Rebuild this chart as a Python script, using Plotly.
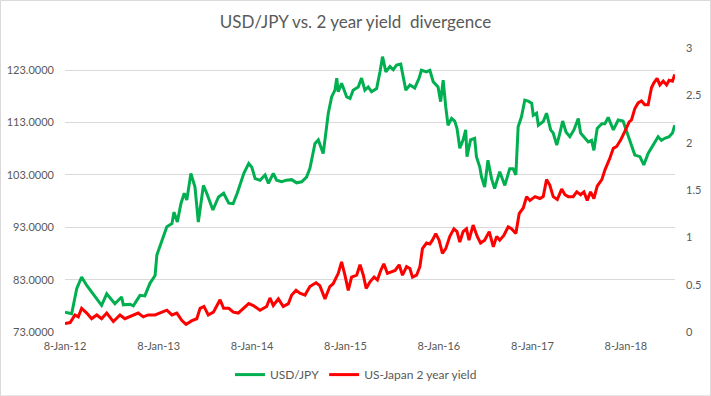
import plotly.graph_objects as go

# ---------------- data ----------------
usdjpy_dates = [
    "2012-01-08","2012-02-03","2012-02-23","2012-03-13","2012-04-02","2012-04-21","2012-05-11","2012-05-30",
    "2012-06-19","2012-07-08","2012-07-21","2012-08-16","2012-08-23","2012-09-18","2012-10-01","2012-10-27",
    "2012-11-15","2012-12-05","2012-12-25","2013-01-01","2013-01-20","2013-02-09","2013-03-01","2013-03-09",
    "2013-03-22","2013-04-05","2013-04-18","2013-04-28","2013-05-14","2013-05-30","2013-06-12","2013-07-02",
    "2013-07-15","2013-08-08","2013-08-30","2013-09-19","2013-10-09","2013-10-26","2013-11-11","2013-12-07",
    "2013-12-26","2014-01-07","2014-01-20","2014-02-08","2014-02-28","2014-03-13","2014-04-01","2014-04-14",
    "2014-05-04","2014-05-23","2014-06-12","2014-07-01","2014-07-21","2014-08-09","2014-08-22","2014-09-11",
    "2014-09-24","2014-10-13","2014-10-20","2014-11-02","2014-11-15","2014-11-28","2014-12-05","2014-12-11",
    "2014-12-24","2015-01-13","2015-01-26","2015-02-07","2015-02-27","2015-03-12","2015-03-25","2015-04-07",
    "2015-04-20","2015-05-10","2015-05-23","2015-06-02","2015-06-15","2015-07-01","2015-07-14","2015-07-27",
    "2015-08-12","2015-08-22","2015-09-01","2015-09-17","2015-10-06","2015-10-23","2015-11-01","2015-11-21",
    "2015-12-04","2015-12-17","2016-01-05","2016-01-15","2016-01-25","2016-02-04","2016-02-13","2016-02-27",
    "2016-03-10","2016-03-19","2016-03-30","2016-04-12","2016-04-22","2016-04-27","2016-05-11","2016-05-27",
    "2016-06-03","2016-06-16","2016-06-23","2016-07-05","2016-07-18","2016-08-01","2016-08-13","2016-09-02",
    "2016-09-22","2016-10-11","2016-10-24","2016-11-04","2016-11-13","2016-11-26","2016-12-09","2016-12-22",
    "2017-01-05","2017-01-11","2017-01-24","2017-01-31","2017-02-19","2017-03-04","2017-03-20","2017-03-30",
    "2017-04-13","2017-04-25","2017-05-06","2017-05-19","2017-06-03","2017-06-19","2017-07-06","2017-07-15",
    "2017-07-28","2017-08-14","2017-08-27","2017-09-05","2017-09-18","2017-10-06","2017-10-18","2017-10-31",
    "2017-11-20","2017-12-09","2017-12-28","2018-01-11","2018-01-26","2018-02-12","2018-03-04","2018-03-19",
    "2018-04-05","2018-04-25","2018-05-14","2018-05-27","2018-06-09","2018-06-26","2018-07-09","2018-07-18",
]
usdjpy_values = [
    76.8, 76.5, 81.3, 83.5, 81.9, 80.6, 79.4, 78.1,
    80.3, 79.1, 78.4, 79.7, 78.2, 78.3, 78.0, 80.0,
    79.9, 82.3, 83.8, 87.7, 90.2, 93.1, 93.7, 95.9,
    94.0, 97.5, 99.5, 98.2, 103.3, 100.7, 94.0, 101.0,
    99.5, 96.3, 98.8, 99.5, 97.6, 97.5, 99.5, 103.3,
    105.2, 104.5, 102.3, 102.0, 103.0, 101.4, 103.3, 102.0,
    101.7, 102.0, 102.1, 101.5, 101.7, 102.6, 104.2, 109.0,
    109.7, 107.1, 109.7, 114.8, 117.9, 119.2, 121.5, 118.9,
    120.5, 117.9, 117.6, 119.2, 119.8, 121.5, 119.2, 119.8,
    118.9, 119.5, 122.7, 125.6, 122.7, 123.7, 123.1, 124.0,
    124.2, 121.8, 119.2, 120.2, 119.6, 121.5, 123.0, 122.7,
    123.0, 120.8, 119.8, 117.0, 121.1, 116.0, 112.5, 113.8,
    113.3, 111.9, 108.1, 109.7, 111.6, 106.5, 109.7, 110.0,
    106.5, 104.5, 102.6, 100.7, 105.8, 102.3, 100.4, 103.6,
    101.0, 104.2, 104.2, 103.0, 112.2, 114.1, 117.3, 117.1,
    116.7, 114.4, 114.8, 112.5, 113.2, 114.8, 111.6, 111.0,
    108.7, 111.0, 113.3, 111.2, 110.3, 111.6, 113.8, 111.0,
    110.3, 109.3, 109.6, 107.7, 111.9, 112.8, 112.8, 114.0,
    111.6, 113.5, 113.3, 111.2, 109.0, 106.8, 106.5, 104.9,
    107.1, 108.7, 110.3, 109.6, 110.0, 110.3, 111.0, 112.5,
]

spread_dates = [
    "2012-01-08","2012-01-28","2012-02-16","2012-02-29","2012-03-13","2012-04-02","2012-04-21","2012-05-11",
    "2012-05-30","2012-06-19","2012-07-15","2012-08-10","2012-08-29","2012-09-18","2012-10-01","2012-10-20",
    "2012-11-09","2012-11-28","2012-12-25","2013-01-14","2013-02-09","2013-03-01","2013-03-20","2013-04-09",
    "2013-04-25","2013-05-18","2013-06-06","2013-06-19","2013-07-04","2013-07-21","2013-08-10","2013-09-05",
    "2013-09-19","2013-10-09","2013-10-27","2013-11-15","2013-12-07","2013-12-26","2014-01-13","2014-02-08",
    "2014-03-06","2014-03-19","2014-04-01","2014-04-21","2014-05-10","2014-05-30","2014-06-12","2014-06-29",
    "2014-07-14","2014-08-03","2014-08-22","2014-09-15","2014-09-30","2014-10-20","2014-11-08","2014-11-21",
    "2014-12-11","2014-12-24","2015-01-06","2015-01-19","2015-02-01","2015-02-21","2015-03-06","2015-03-19",
    "2015-03-30","2015-04-14","2015-04-30","2015-05-13","2015-05-26","2015-06-07","2015-06-21","2015-07-08",
    "2015-07-21","2015-08-06","2015-08-19","2015-09-04","2015-09-17","2015-09-27","2015-10-13","2015-10-26",
    "2015-11-05","2015-11-21","2015-12-04","2015-12-14","2015-12-27","2016-01-09","2016-01-22","2016-02-04",
    "2016-02-20","2016-03-07","2016-03-19","2016-03-30","2016-04-12","2016-04-25","2016-05-05","2016-05-21",
    "2016-06-06","2016-06-19","2016-07-05","2016-07-23","2016-08-08","2016-08-21","2016-09-02","2016-09-18",
    "2016-10-05","2016-10-18","2016-11-04","2016-11-17","2016-12-03","2016-12-16","2016-12-29","2017-01-18",
    "2017-02-06","2017-02-19","2017-03-04","2017-03-17","2017-03-30","2017-04-15","2017-05-02","2017-05-15",
    "2017-05-28","2017-06-16","2017-06-30","2017-07-15","2017-07-28","2017-08-10","2017-08-23","2017-09-05",
    "2017-09-18","2017-10-06","2017-10-18","2017-11-07","2017-11-20","2017-12-03","2017-12-19","2018-01-04",
    "2018-01-21","2018-01-30","2018-02-12","2018-02-25","2018-03-10","2018-03-23","2018-04-05","2018-04-18",
    "2018-04-27","2018-05-10","2018-05-21","2018-06-03","2018-06-16","2018-06-26","2018-07-09","2018-07-18",
]
spread_values = [
    0.09, 0.10, 0.18, 0.16, 0.25, 0.20, 0.14, 0.18,
    0.14, 0.20, 0.11, 0.18, 0.14, 0.16, 0.18, 0.20,
    0.16, 0.18, 0.18, 0.20, 0.23, 0.18, 0.20, 0.12,
    0.08, 0.12, 0.14, 0.25, 0.27, 0.18, 0.21, 0.34,
    0.25, 0.25, 0.21, 0.20, 0.25, 0.30, 0.28, 0.23,
    0.27, 0.36, 0.28, 0.35, 0.27, 0.30, 0.39, 0.44,
    0.41, 0.39, 0.48, 0.52, 0.49, 0.35, 0.48, 0.51,
    0.62, 0.74, 0.60, 0.44, 0.58, 0.60, 0.71, 0.60,
    0.46, 0.53, 0.58, 0.55, 0.65, 0.72, 0.62, 0.64,
    0.65, 0.71, 0.60, 0.69, 0.67, 0.58, 0.60, 0.69,
    0.88, 0.94, 0.93, 0.97, 1.04, 0.97, 0.83, 0.88,
    1.01, 1.09, 1.06, 0.95, 1.06, 1.09, 0.97, 1.13,
    1.01, 0.94, 0.97, 1.06, 0.90, 1.01, 0.97, 1.02,
    1.11, 1.09, 1.04, 1.25, 1.31, 1.43, 1.39, 1.43,
    1.41, 1.43, 1.61, 1.55, 1.43, 1.40, 1.51, 1.45,
    1.43, 1.43, 1.48, 1.45, 1.48, 1.39, 1.48, 1.41,
    1.54, 1.61, 1.71, 1.84, 1.94, 1.96, 2.03, 2.12,
    2.22, 2.24, 2.36, 2.42, 2.44, 2.40, 2.40, 2.58,
    2.63, 2.68, 2.61, 2.65, 2.61, 2.66, 2.65, 2.72,
]

x_tick_dates = ["2012-01-08","2013-01-08","2014-01-08","2015-01-08","2016-01-08","2017-01-08","2018-01-08"]
x_tick_labels = ["8-Jan-12","8-Jan-13","8-Jan-14","8-Jan-15","8-Jan-16","8-Jan-17","8-Jan-18"]
left_ticks = [73, 83, 93, 103, 113, 123]
right_ticks = [0, 0.5, 1, 1.5, 2, 2.5, 3]
right_tick_labels = ["0", "0.5", "1", "1.5", "2", "2.5", "3"]

series1_name = "USD/JPY"
series2_name = "US-Japan 2 year yield"
title_text = "USD/JPY vs. 2 year yield  divergence"

# ---------------- figure ----------------
FONT = "Lato, 'Open Sans', Arial, sans-serif"
TXT = "#595959"
GRID = "#d9d9d9"

fig = go.Figure()
fig.add_trace(go.Scatter(x=usdjpy_dates, y=usdjpy_values, name=series1_name, mode="lines",
                         line=dict(color="#00B050", width=3), yaxis="y"))
fig.add_trace(go.Scatter(x=spread_dates, y=spread_values, name=series2_name, mode="lines",
                         line=dict(color="#FF0000", width=3), yaxis="y2"))

fig.update_layout(
    width=711, height=396,
    autosize=False,
    margin=dict(l=65, r=36, t=48, b=64, pad=0, autoexpand=False),
    paper_bgcolor="white", plot_bgcolor="white",
    font=dict(family=FONT, size=11, color=TXT),
    title=dict(text=title_text, x=0.5, xref="container", xanchor="center",
               y=0.945, yanchor="middle", font=dict(family=FONT, size=17, color=TXT)),
    xaxis=dict(type="date", range=["2012-01-08", "2018-07-19"], automargin=False,
               tickvals=x_tick_dates, ticktext=x_tick_labels,
               showgrid=False, zeroline=False, showline=False, ticks="",
               ticklabelstandoff=6, tickfont=dict(size=11, color=TXT)),
    yaxis=dict(range=[73, 127.25], tickvals=left_ticks, tickformat=".4f", automargin=False,
               showgrid=True, gridcolor=GRID, gridwidth=1, zeroline=False, showline=False,
               ticks="", ticklabelstandoff=10, tickfont=dict(size=11, color=TXT)),
    yaxis2=dict(range=[0, 3], tickvals=right_ticks, ticktext=right_tick_labels, automargin=False,
                overlaying="y", side="right", showgrid=False, zeroline=False, showline=False,
                ticks="", ticklabelstandoff=10, tickfont=dict(size=11, color=TXT)),
    legend=dict(orientation="h", x=0.477, xanchor="center", y=-0.15, yanchor="middle",
                font=dict(size=12, color=TXT), bgcolor="rgba(0,0,0,0)"),
    showlegend=True,
    shapes=[dict(type="rect", xref="paper", yref="paper",
                 x0=-0.1057, x1=1.0582, y0=-0.2249, y1=1.1674,
                 line=dict(color="#d9d9d9", width=1), fillcolor="rgba(0,0,0,0)", layer="below")],
)

fig.write_html("out.html", config={"displayModeBar": False},
               post_script="document.body.style.margin='0';document.body.style.overflow='hidden';")
